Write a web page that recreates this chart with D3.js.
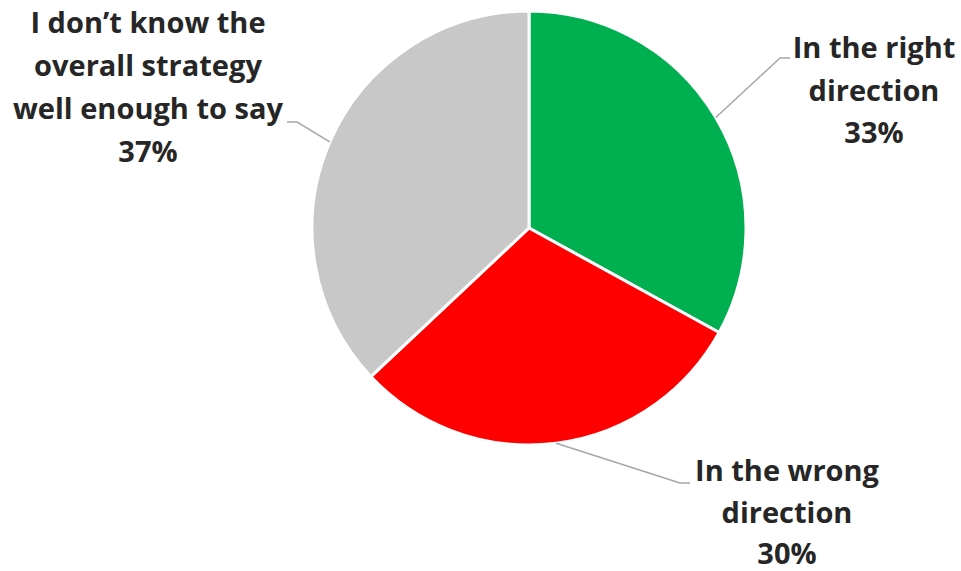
<!DOCTYPE html>
<html>
<head>
<meta charset="utf-8">
<script src="https://cdn.jsdelivr.net/npm/d3@7"></script>
<style>
  html, body { margin: 0; padding: 0; background: #fff; }
  svg { display: block; }
  text { font-family: "Open Sans", Lato, sans-serif; font-weight: 700; fill: #262626; }
</style>
</head>
<body>
<svg id="chart" width="961" height="571"></svg>
<script>
// Survey answers, in clockwise order starting at 12 o'clock
const categories = ["In the right direction", "In the wrong direction", "I don\u2019t know the overall strategy well enough to say"];
const values = [33, 30, 37];
const colors = ["#00B050", "#FF0000", "#C8C8C8"];
// Text lines for each label (the last line is the percentage)
const labelLines = [
  ["In the right", "direction"],
  ["In the wrong", "direction"],
  ["I don\u2019t know the", "overall strategy", "well enough to say"]
];

// Layout
const W = 961, H = 571;
const cx = 529, cy = 228, R = 217;
const fontSize = 29, lineGap = 42.5;
// label block: centre x, baseline of first line, line gap, leader elbow (x,y) and horizontal end x
const labelLayout = [
  { x: 874, y: 58,  gap: 42.5, elbow: [780, 58],  end: 790 },
  { x: 787, y: 481, gap: 41.5, elbow: [680, 483], end: 690 },
  { x: 148, y: 33,  gap: 43,   elbow: [297, 122], end: 287 }
];

const svg = d3.select("#chart");
const g = svg.append("g").attr("transform", `translate(${cx},${cy})`);

const pie = d3.pie().sort(null).value(d => d)
  .startAngle(0).endAngle(2 * Math.PI);
const arcs = pie(values);
const arc = d3.arc().innerRadius(0).outerRadius(R);
const rim = d3.arc().innerRadius(R).outerRadius(R);

g.selectAll("path.slice")
  .data(arcs)
  .join("path")
  .attr("class", "slice")
  .attr("d", arc)
  .attr("fill", (d, i) => colors[i])
  .attr("stroke", "#fff")
  .attr("stroke-width", 3)
  .attr("stroke-linejoin", "round");

// Leader lines: from slice rim mid-point to the label elbow, then a short horizontal run
const leaders = svg.append("g");
arcs.forEach((d, i) => {
  const [px, py] = rim.centroid(d);
  const L = labelLayout[i];
  leaders.append("polyline")
    .attr("points", [[cx + px, cy + py], L.elbow, [L.end, L.elbow[1]]].map(p => p.join(",")).join(" "))
    .attr("fill", "none")
    .attr("stroke", "#A6A6A6")
    .attr("stroke-width", 1.5);
});

// Labels
const labels = svg.append("g");
arcs.forEach((d, i) => {
  const L = labelLayout[i];
  const lines = labelLines[i].concat([Math.round(d.value) + "%"]);
  const t = labels.append("text")
    .attr("text-anchor", "middle")
    .attr("font-size", fontSize);
  lines.forEach((s, k) => {
    t.append("tspan").attr("x", L.x).attr("y", L.y + k * L.gap).text(s);
  });
});
</script>
</body>
</html>
